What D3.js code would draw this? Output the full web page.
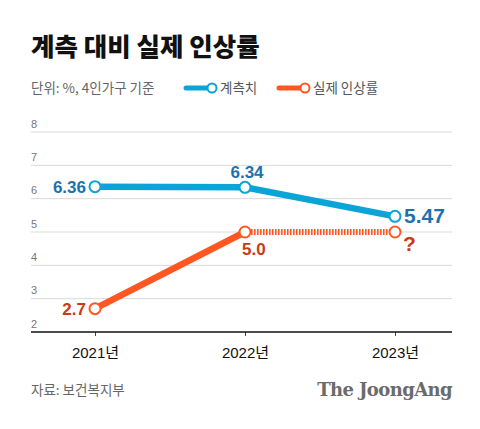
<!DOCTYPE html>
<html><head><meta charset="utf-8">
<script src="https://cdn.jsdelivr.net/npm/d3@7/dist/d3.min.js"></script>
<style>
body{margin:0;background:#fff;}
svg{font-family:"Noto Sans CJK KR","Noto Sans",sans-serif;}
</style></head><body>
<svg id="c" width="480" height="429"></svg>
<script>
const years = ["2021년","2022년","2023년"];
const plannedValues = [6.36, 6.34, 5.47];
const actualValues = [2.7, 5.0, 5.0];
const plannedLabels = ["6.36","6.34","5.47"];
const actualLabels = ["2.7","5.0","?"];
const yTicks = [2,3,4,5,6,7,8];

const svg = d3.select("#c");
const blue = "#0aa4d6", orange = "#ff5722", blueTxt = "#1b72ae", orangeTxt = "#cc3a12";
const lf = "'Liberation Sans', Arial, 'Noto Sans CJK KR', sans-serif";

svg.append("text").attr("x",31).attr("y",56).attr("font-size",25.5).attr("font-weight",900).attr("fill","#111").text("계측 대비 실제 인상률");
svg.append("text").attr("x",31).attr("y",93).attr("font-size",13.5).attr("fill","#666").text("단위: %, 4인가구 기준");

// legend
const leg = [{x:184, c:blue, t:"계측치"},{x:277, c:orange, t:"실제 인상률"}];
leg.forEach(l=>{
  svg.append("line").attr("x1",l.x+2).attr("x2",l.x+26).attr("y1",88).attr("y2",88).attr("stroke",l.c).attr("stroke-width",5).attr("stroke-linecap","round");
  svg.append("circle").attr("cx",l.x+28).attr("cy",88).attr("r",4.5).attr("fill","#fff").attr("stroke",l.c).attr("stroke-width",2);
  svg.append("text").attr("x",l.x+36).attr("y",93).attr("font-size",13.5).attr("fill","#555").text(l.t);
});

const x = d3.scalePoint().domain(years).range([95,395]);
const y = d3.scaleLinear().domain([2,8]).range([332,132]);

// grid
yTicks.forEach(t=>{
  if(t>2) svg.append("line").attr("x1",31).attr("x2",452).attr("y1",y(t)).attr("y2",y(t)).attr("stroke","#d9d9d9").attr("stroke-width",1);
  svg.append("text").attr("x",31).attr("y",y(t)-4.5).attr("font-size",11).attr("fill","#777").style("font-family",lf).text(t);
});

// x axis
const xa = svg.append("g").attr("transform","translate(0,332)")
  .call(d3.axisBottom(x).tickSize(4).tickPadding(8));
xa.select(".domain").remove();
xa.append("line").attr("x1",31).attr("x2",452).attr("stroke","#111").attr("stroke-width",1.5);
xa.selectAll(".tick line").attr("stroke","#444");
xa.selectAll(".tick text").attr("font-size",15).attr("fill","#111").attr("dy","0.9em").style("font-family",lf);

const line = d3.line().x(d=>x(d.k)).y(d=>y(d.v));
const pd = years.map((k,i)=>({k,v:plannedValues[i]}));
const ad = years.map((k,i)=>({k,v:actualValues[i]}));

svg.append("path").attr("d",line(pd)).attr("fill","none").attr("stroke",blue).attr("stroke-width",6.5);
svg.append("path").attr("d",line(ad.slice(0,2))).attr("fill","none").attr("stroke",orange).attr("stroke-width",6.5);
svg.append("path").attr("d",line(ad.slice(1,3))).attr("fill","none").attr("stroke",orange).attr("stroke-width",6).attr("stroke-dasharray","1.6,1.4");

[[pd,blue],[ad,orange]].forEach(([d,c])=>{
  svg.selectAll(null).data(d).enter().append("circle").attr("cx",p=>x(p.k)).attr("cy",p=>y(p.v)).attr("r",5.5)
    .attr("fill","#fff").attr("stroke",c).attr("stroke-width",2);
});

function lbl(xx,yy,anchor,size,col,t){
  svg.append("text").attr("x",xx).attr("y",yy).attr("text-anchor",anchor).attr("font-size",size).attr("font-weight",700).attr("fill",col).style("font-family",lf).text(t);
}
lbl(x(years[0])-9, y(plannedValues[0])+6, "end", 17, blueTxt, plannedLabels[0]);
lbl(x(years[1])+2, y(plannedValues[1])-9, "middle", 17, blueTxt, plannedLabels[1]);
lbl(x(years[2])+9, y(plannedValues[2])+7, "start", 21, blueTxt, plannedLabels[2]);
lbl(x(years[0])-9, y(actualValues[0])+6, "end", 17, orangeTxt, actualLabels[0]);
lbl(x(years[1])-3, y(actualValues[1])+23, "start", 17, orangeTxt, actualLabels[1]);
lbl(x(years[2])+8, y(actualValues[2])+19, "start", 21, orangeTxt, actualLabels[2]);

svg.append("text").attr("x",31).attr("y",395).attr("font-size",13.5).attr("fill","#666").text("자료: 보건복지부");
svg.append("text").attr("x",452).attr("y",396).attr("text-anchor","end").attr("font-size",18).attr("font-weight",700).attr("fill","#6b6b6b").style("font-family","'DejaVu Serif','Liberation Serif',serif").attr("letter-spacing","-0.6").text("The JoongAng");
</script></body></html>
